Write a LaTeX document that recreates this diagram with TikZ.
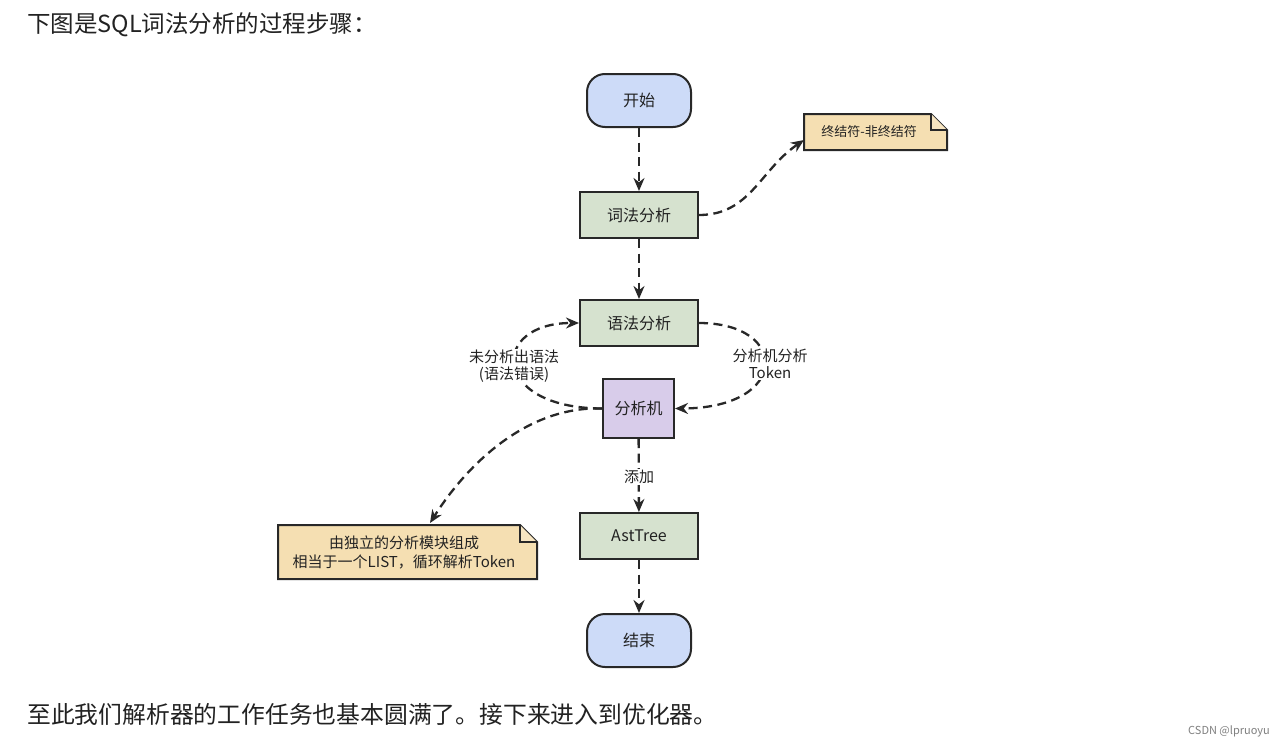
\documentclass[tikz,border=0pt]{standalone}
\usepackage{fontspec}
\setmainfont{Noto Sans CJK SC}
\usetikzlibrary{arrows.meta,calc}
\definecolor{termfill}{RGB}{205,219,248}
\definecolor{procfill}{RGB}{214,226,207}
\definecolor{machfill}{RGB}{216,204,234}
\definecolor{notefill}{RGB}{245,223,178}
\definecolor{linecol}{RGB}{40,40,40}
\definecolor{txtcol}{RGB}{34,34,34}
\tikzset{
  x=1pt,y=-1pt,
  term/.style={draw=linecol,line width=2pt,fill=termfill,rounded corners=18pt,minimum width=104pt,minimum height=53pt,font=\fontsize{16}{19}\selectfont,text=txtcol},
  proc/.style={draw=linecol,line width=2pt,fill=procfill,minimum width=118pt,minimum height=46pt,font=\fontsize{16}{19}\selectfont,text=txtcol},
  mach/.style={draw=linecol,line width=2pt,fill=machfill,minimum width=71pt,minimum height=59pt,font=\fontsize{16}{19}\selectfont,text=txtcol},
  flow/.style={draw=linecol,line width=2.3pt,dash pattern=on 9pt off 5.5pt,-{Stealth[length=13pt,width=11pt]}},
  lbl/.style={fill=white,inner sep=1pt,font=\fontsize{15}{17}\selectfont,text=txtcol,align=center},
  notebox/.style={draw=linecol,line width=2pt,fill=notefill,line join=miter}
}
\begin{document}
\begin{tikzpicture}
\useasboundingbox[fill=white] (0,0) rectangle (1285,747);
% texts
\node[anchor=west,font=\fontsize{23.5}{27}\selectfont,text=txtcol,inner sep=0] (title) at (27,25) {下图是SQL词法分析的过程步骤：};
\node[anchor=west,font=\fontsize{23.8}{27}\selectfont,text=txtcol,inner sep=0] (bottom) at (27,714) {至此我们解析器的工作任务也基本圆满了。接下来进入到优化器。};
\node[anchor=east,font=\fontsize{11}{13}\selectfont,text=gray,inner sep=0] (mark) at (1270,731) {CSDN @lpruoyu};
% nodes
\node[term] (start) at (639,100.5) {开始};
\node[proc] (lex) at (639,215) {词法分析};
\node[proc] (syn) at (639,323) {语法分析};
\node[mach] (mach) at (638.5,408.5) {分析机};
\node[proc] (ast) at (639,536) {AstTree};
\node[term] (end) at (639,640.5) {结束};
% note 1
\path[notebox] (804,114) -- (931,114) -- (947,130) -- (947,150) -- (804,150) -- cycle;
\draw[linecol,line width=1.6pt,fill=notefill!80!white] (931,114) -- (931,130) -- (947,130);
\node[font=\fontsize{13}{15}\selectfont,text=txtcol] (note1) at (869,132) {终结符-非终结符};
\coordinate (n1in) at (804,140);
% note 2
\path[notebox] (278,525) -- (520,525) -- (537,542) -- (537,579) -- (278,579) -- cycle;
\draw[linecol,line width=1.6pt,fill=notefill!80!white] (520,525) -- (520,542) -- (537,542);
\node[font=\fontsize{15}{19}\selectfont,text=txtcol,align=center] (note2) at (404,552) {由独立的分析模块组成\\相当于一个LIST，循环解析Token};
\coordinate (n2in) at (430,523);
% connectors
\draw[flow] (start) -- (lex);
\draw[flow] (lex) -- (syn);
\draw[flow] (lex.east) .. controls (750,215) and (760,170) .. (n1in);
\draw[flow] (syn.east) .. controls (790,323) and (790,408) .. (mach.east);
\draw[flow] (mach.west) .. controls (490,408) and (490,323) .. (syn.west);
\draw[flow] (mach.west) .. controls (530,406) and (470,460) .. (n2in);
\draw[flow] (mach) -- (ast);
\draw[flow] (ast) -- (end);
% labels
\node[lbl] (l1) at (514,366) {未分析出语法\\(语法错误)};
\node[lbl] (l2) at (770,364) {分析机分析\\Token};
\node[lbl] (l3) at (639,477) {添加};
\end{tikzpicture}
\end{document}
